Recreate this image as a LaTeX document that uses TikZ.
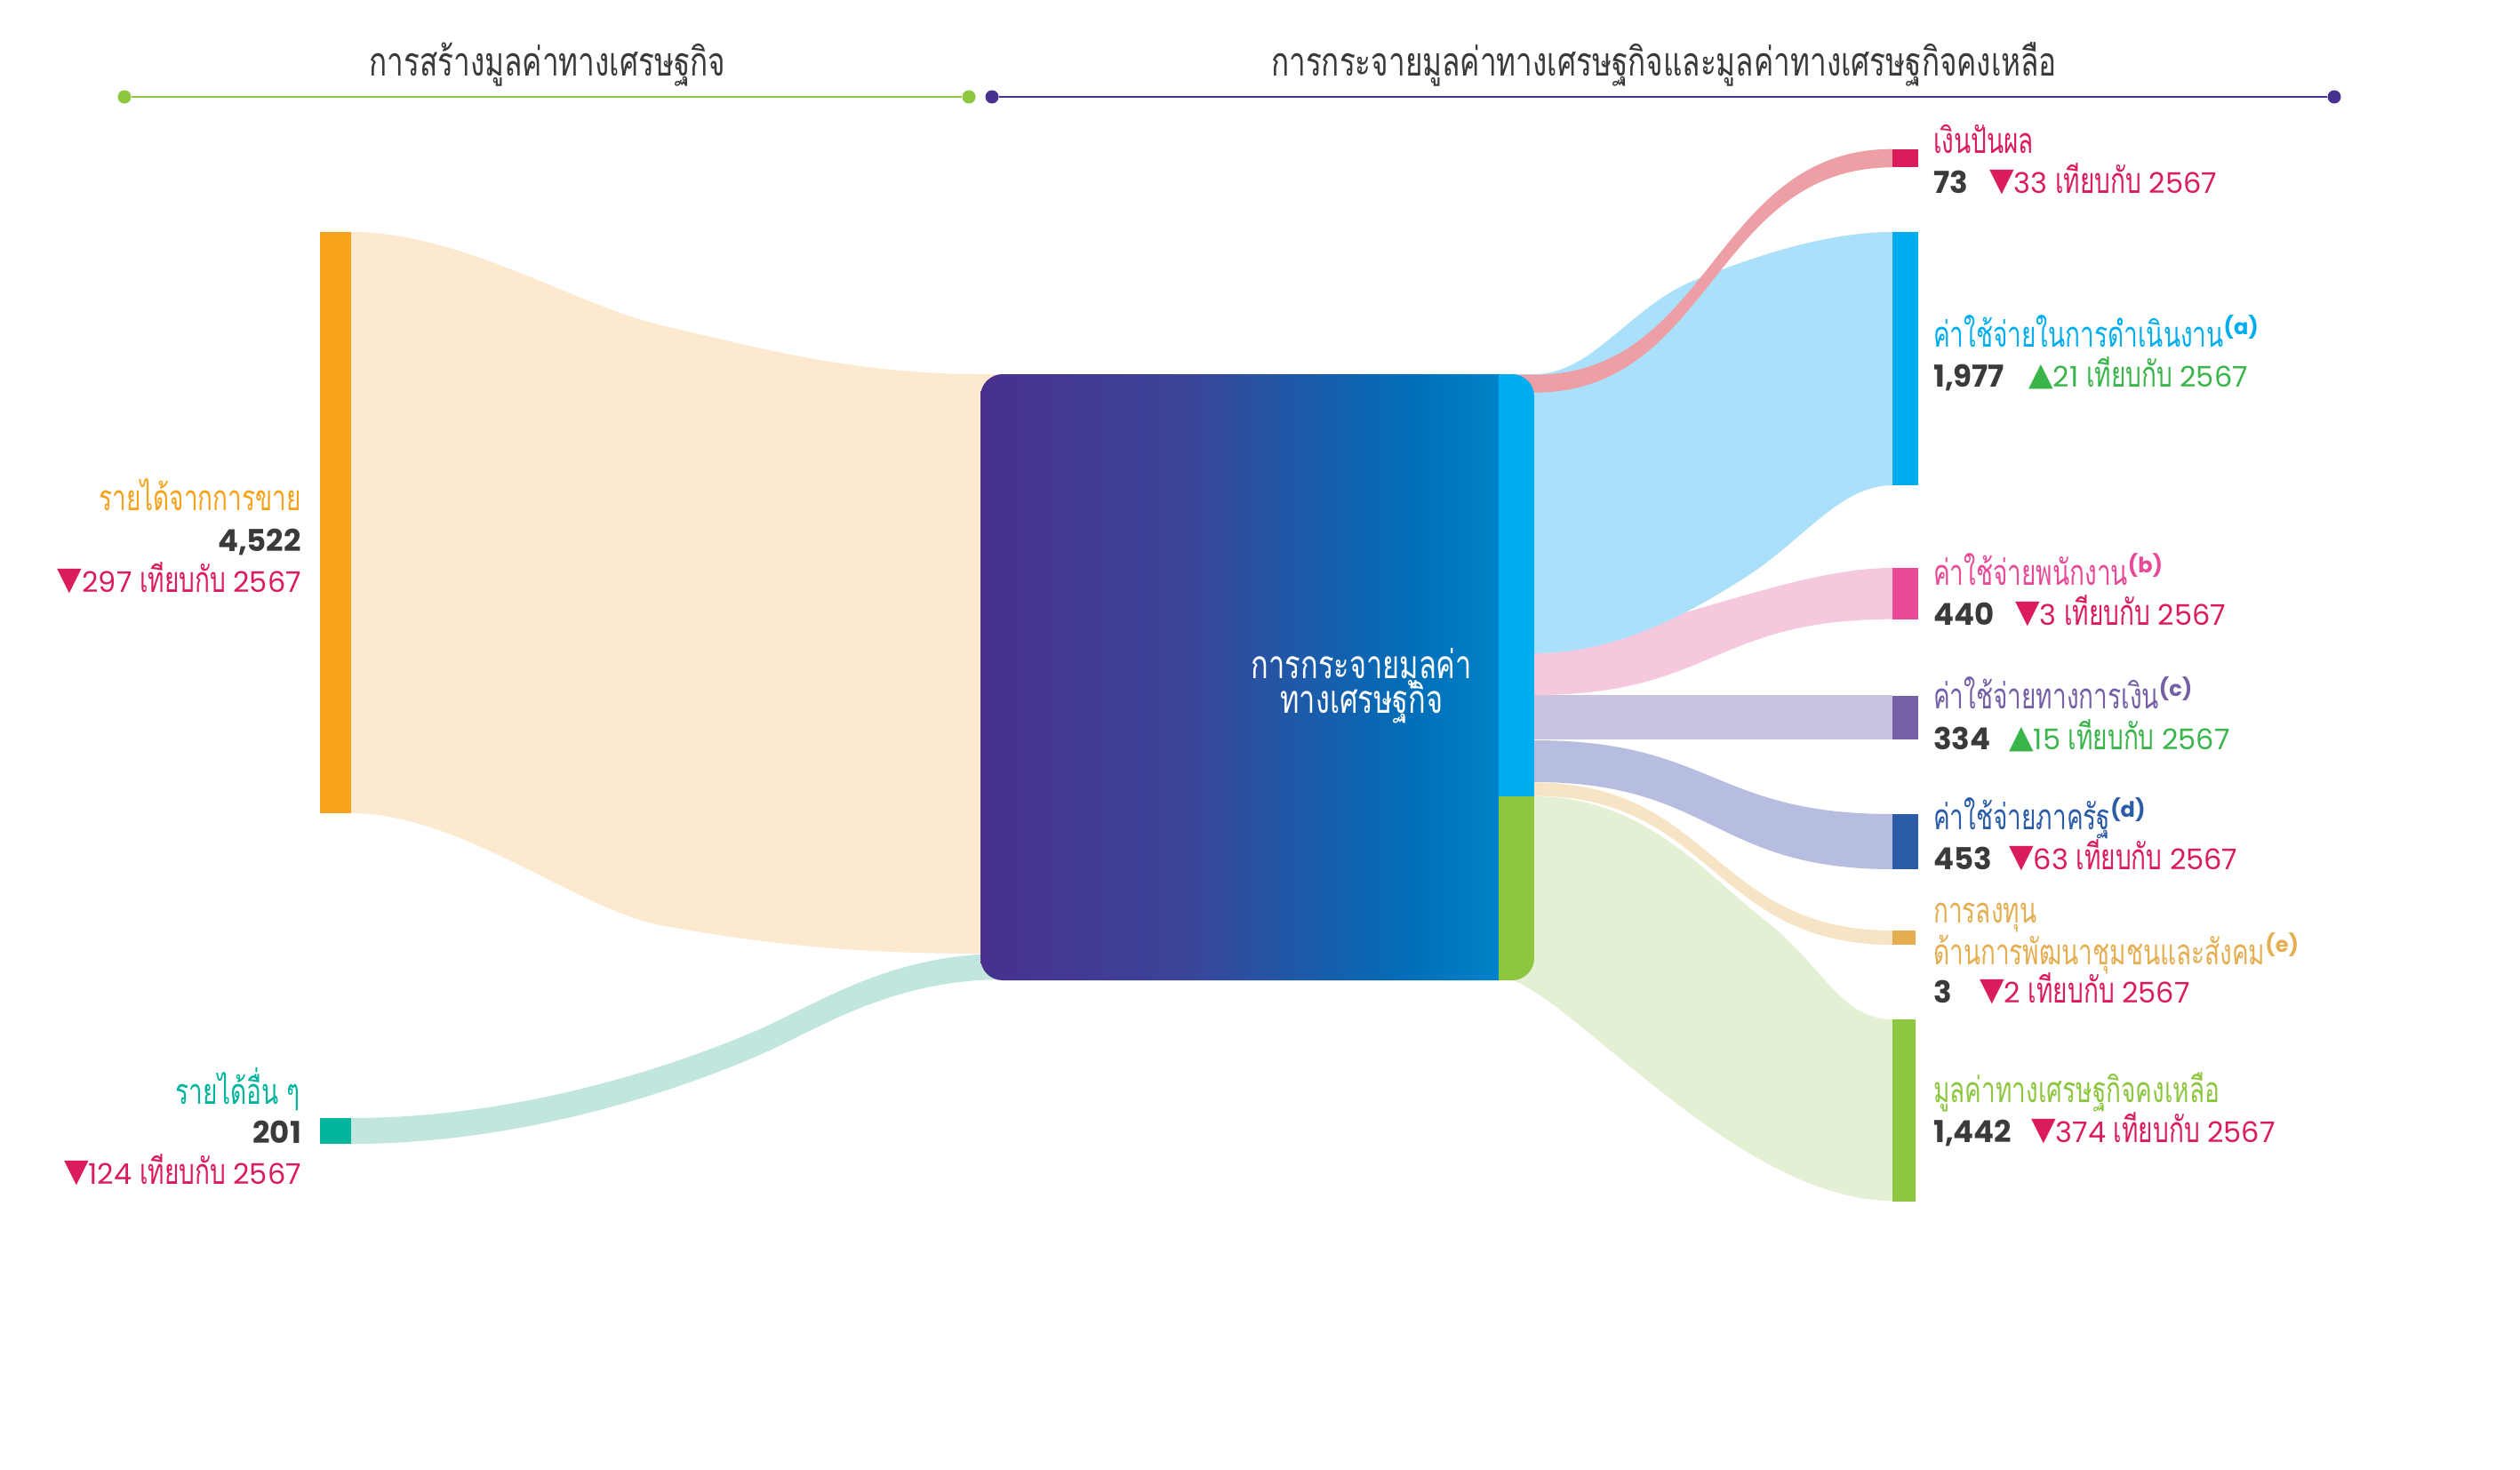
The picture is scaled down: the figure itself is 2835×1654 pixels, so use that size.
\documentclass[tikz,border=0pt]{standalone}
\usepackage{fontspec}
\setmainfont{Poppins}
\newfontfamily\thai[Script=Thai,FakeStretch=0.74]{Loma}
\newfontfamily\thain[Script=Thai,FakeStretch=0.70]{Loma}
\newfontfamily\pop{Poppins}
\newfontfamily\sym{DejaVu Sans}
\definecolor{txt}{HTML}{3A3A3A}
\definecolor{redT}{HTML}{DA1C5C}
\definecolor{grnT}{HTML}{39B54A}
\definecolor{hdrG}{HTML}{8DC63F}
\definecolor{hdrP}{HTML}{47338F}
\definecolor{orC}{HTML}{F7A21B}\definecolor{orF}{HTML}{FDE9CF}
\definecolor{teC}{HTML}{00B49D}\definecolor{teF}{HTML}{C1E6DE}
\definecolor{divC}{HTML}{DA1C5C}\definecolor{divF}{HTML}{EE9FA6}
\definecolor{opC}{HTML}{00AEEF}\definecolor{opF}{HTML}{ABE0FA}
\definecolor{stC}{HTML}{E84A97}\definecolor{stF}{HTML}{F6C8DE}
\definecolor{fiC}{HTML}{7560A8}\definecolor{fiF}{HTML}{C9C3E0}
\definecolor{goC}{HTML}{2A5CA8}\definecolor{goF}{HTML}{B6BDE0}
\definecolor{csC}{HTML}{E5AE51}\definecolor{csF}{HTML}{F7E4C4}
\definecolor{reC}{HTML}{8DC63F}\definecolor{reF}{HTML}{E3F0D4}
\definecolor{gA}{HTML}{48308E}\definecolor{gB}{HTML}{3A4598}
\definecolor{gC}{HTML}{006FB9}\definecolor{gD}{HTML}{0083C9}
\pgfdeclarehorizontalshading{boxgrad}{100bp}{color(0bp)=(gA); color(25bp)=(gA); color(45bp)=(gB); color(67bp)=(gC); color(75bp)=(gD); color(100bp)=(gD)}
\newcommand\thl{\thain\fontsize{40}{40}\selectfont}
\newcommand\numf{\pop\bfseries\fontsize{34}{34}\selectfont}
\newcommand\chgf{\pop\fontsize{32}{32}\selectfont}
\newcommand\supr[1]{{\pop\bfseries\fontsize{24}{24}\selectfont\raisebox{14pt}{(#1)}}}
\newcommand\dn{{\sym\fontsize{36}{36}\selectfont\raisebox{3pt}{▼}}}
\newcommand\up{{\sym\fontsize{36}{36}\selectfont\raisebox{2pt}{▲}}}
\newcommand\cmp{{\thain\fontsize{40}{40}\selectfont เทียบกับ}}
\begin{document}
\begin{tikzpicture}[x=1pt,y=-1pt,
  lbl/.style={inner sep=0pt,anchor=base west},
  lbr/.style={inner sep=0pt,anchor=base east},
  dotg/.style={circle,fill=hdrG,inner sep=0pt,minimum size=15pt},
  dotp/.style={circle,fill=hdrP,inner sep=0pt,minimum size=15pt}]
\useasboundingbox (0,0) rectangle (2835,1654);
\fill[white] (0,0) rectangle (2835,1654);
% headers
\node[inner sep=0pt,anchor=base,text=txt] (h1) at (616,85) {\thai\fontsize{45}{45}\selectfont การสร้างมูลค่าทางเศรษฐกิจ};
\node[inner sep=0pt,anchor=base,text=txt] (h2) at (1872,85) {\thai\fontsize{45}{45}\selectfont การกระจายมูลค่าทางเศรษฐกิจและมูลค่าทางเศรษฐกิจคงเหลือ};
\node[dotg] (g1) at (140,109) {};
\node[dotg] (g2) at (1090,109) {};
\node[dotp] (p1) at (1116,109) {};
\node[dotp] (p2) at (2626,109) {};
\draw[hdrG,line width=2.5pt] (g1) -- (g2);
\draw[hdrP,line width=2.5pt] (p1) -- (p2);
% left flows
\fill[teF] (395,1258) .. controls (600,1258) and (780,1190) .. (850,1160) .. controls (920,1130) and (1000,1073) .. (1130,1073) -- (1130,1102) .. controls (1000,1102) and (920,1159) .. (850,1189) .. controls (780,1219) and (600,1287) .. (395,1287) -- cycle;
\fill[orF] (395,261) .. controls (520,261) and (650,345) .. (748,367) .. controls (830,385) and (950,421) .. (1103,421) -- (1130,421) -- (1130,1073) -- (1103,1073) .. controls (950,1073) and (850,1060) .. (748,1042) .. controls (650,1025) and (520,915) .. (395,915) -- cycle;
% right flows
\fill[reF] (1700,896) -- (1726,896) .. controls (1850,896) and (1920,985) .. (1985,1035) .. controls (2050,1085) and (2070,1147) .. (2129,1147) -- (2129,1351) .. controls (1960,1351) and (1780,1132) .. (1700,1102) -- cycle;
\fill[csF] (1700,880.5) -- (1726,880.5) .. controls (1927,880.5) and (1927,1047) .. (2129,1047) -- (2129,1063) .. controls (1927,1063) and (1927,895.6) .. (1726,895.6) -- (1700,895.6) -- cycle;
\fill[goF] (1700,833) -- (1726,833) .. controls (1927,833) and (1927,916) .. (2129,916) -- (2129,978) .. controls (1927,978) and (1927,880) .. (1726,880) -- (1700,880) -- cycle;
\fill[fiF] (1700,782) rectangle (2129,832);
\fill[stF] (1700,735) -- (1726,735) .. controls (1800,735) and (1840,705) .. (1900,688) .. controls (1980,665) and (2060,639) .. (2129,639) -- (2129,696.7) .. controls (1927,696.7) and (1927,782) .. (1726,782) -- (1700,782) -- cycle;
\fill[opF] (1700,421) -- (1726,421) .. controls (1790,421) and (1830,350) .. (1900,318) .. controls (1980,285) and (2060,261) .. (2129,261) -- (2129,546) .. controls (2070,546) and (2030,607) .. (1963,650) .. controls (1900,690) and (1820,735) .. (1726,735) -- (1700,735) -- cycle;
\fill[divF] (1700,421.7) -- (1726,421.7) .. controls (1927,421.7) and (1927,167.7) .. (2129,167.7) -- (2129,188.3) .. controls (1927,188.3) and (1927,441.7) .. (1726,441.7) -- (1700,441.7) -- cycle;
% central box
\begin{scope}
\clip[rounded corners=25pt] (1103,421) rectangle (1726,1103);
\shade[shading=boxgrad] (1103,421) rectangle (1686,1103);
\fill[opC] (1686,421) rectangle (1726,896);
\fill[reC] (1686,896) rectangle (1726,1103);
\end{scope}
\node[inner sep=0pt,anchor=base,text=white] (c1) at (1532,763) {\thai\fontsize{44}{44}\selectfont การกระจายมูลค่า};
\node[inner sep=0pt,anchor=base,text=white] (c2) at (1532,802) {\thai\fontsize{44}{44}\selectfont ทางเศรษฐกิจ};
% left bars
\fill[orC] (360,261) rectangle (395,915);
\fill[teC] (360,1258) rectangle (395,1287);
% right bars
\fill[divC] (2129,167.7) rectangle (2158,188.3);
\fill[opC] (2129,261) rectangle (2158,546);
\fill[stC] (2129,639) rectangle (2158,696.7);
\fill[fiC] (2129,783) rectangle (2158,832);
\fill[goC] (2129,916) rectangle (2158,978);
\fill[csC] (2129,1047) rectangle (2155,1063);
\fill[reC] (2129,1147) rectangle (2155,1352);
% left labels
\node[lbr,text=orC] (l1) at (339,574) {\thl รายได้จากการขาย};
\node[lbr,text=txt] (l2) at (339,620) {\numf 4,522};
\node[lbr,text=redT] (l3) at (339,666) {\dn\chgf 297 \cmp\ 2567};
\node[lbr,text=teC] (l4) at (338,1242) {\thl รายได้อื่น ๆ};
\node[lbr,text=txt] (l5) at (339,1286) {\numf 201};
\node[lbr,text=redT] (l6) at (339,1332) {\dn\chgf 124 \cmp\ 2567};
% right labels
\node[lbl,text=divC] (r1) at (2175,172) {\thl เงินปันผล};
\node[lbl,text=txt] (r1n) at (2175,217) {\numf 73};
\node[lbl,text=redT] (r1c) at (2238,217) {\dn\chgf 33 \cmp\ 2567};
\node[lbl,text=opC] (r2) at (2175,390) {\thl ค่าใช้จ่ายในการดำเนินงาน\supr{a}};
\node[lbl,text=txt] (r2n) at (2175,435) {\numf 1,977};
\node[lbl,text=grnT] (r2c) at (2282,435) {\up\chgf 21 \cmp\ 2567};
\node[lbl,text=stC] (r3) at (2175,658) {\thl ค่าใช้จ่ายพนักงาน\supr{b}};
\node[lbl,text=txt] (r3n) at (2175,703) {\numf 440};
\node[lbl,text=redT] (r3c) at (2267,703) {\dn\chgf 3 \cmp\ 2567};
\node[lbl,text=fiC] (r4) at (2175,797) {\thl ค่าใช้จ่ายทางการเงิน\supr{c}};
\node[lbl,text=txt] (r4n) at (2175,843) {\numf 334};
\node[lbl,text=grnT] (r4c) at (2260,843) {\up\chgf 15 \cmp\ 2567};
\node[lbl,text=goC] (r5) at (2175,933) {\thl ค่าใช้จ่ายภาครัฐ\supr{d}};
\node[lbl,text=txt] (r5n) at (2175,978) {\numf 453};
\node[lbl,text=redT] (r5c) at (2260,978) {\dn\chgf 63 \cmp\ 2567};
\node[lbl,text=csC] (r6a) at (2175,1038) {\thl การลงทุน};
\node[lbl,text=csC] (r6b) at (2175,1085) {\thl ด้านการพัฒนาชุมชนและสังคม\supr{e}};
\node[lbl,text=txt] (r6n) at (2175,1128) {\numf 3};
\node[lbl,text=redT] (r6c) at (2227,1128) {\dn\chgf 2 \cmp\ 2567};
\node[lbl,text=reC] (r7) at (2175,1240) {\thl มูลค่าทางเศรษฐกิจคงเหลือ};
\node[lbl,text=txt] (r7n) at (2175,1285) {\numf 1,442};
\node[lbl,text=redT] (r7c) at (2285,1285) {\dn\chgf 374 \cmp\ 2567};
\end{tikzpicture}
\end{document}
